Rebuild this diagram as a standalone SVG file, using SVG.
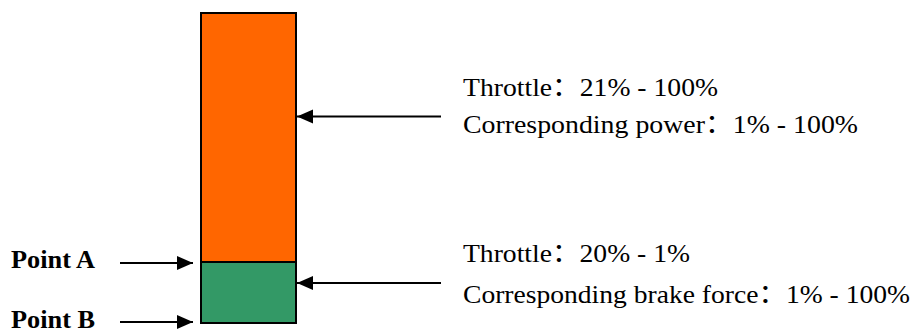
<svg xmlns="http://www.w3.org/2000/svg" width="917" height="333" viewBox="0 0 917 333">
  <style>
    .label { font-family: "Liberation Serif", "Noto Sans CJK SC", serif; font-size: 26px; fill: #000; }
    .point { font-family: "Liberation Serif", serif; font-size: 25px; font-weight: bold; fill: #000; }
    .conn { stroke: #000; stroke-width: 1.8; fill: none; marker-end: url(#head); }
    .bar { stroke: #000; stroke-width: 2; }
  </style>
  <defs>
    <marker id="head" markerUnits="userSpaceOnUse" markerWidth="17" markerHeight="15" refX="16" refY="7" orient="auto">
      <path d="M0,0 L16,7 L0,14 Z" fill="#000"/>
    </marker>
  </defs>
  <rect width="917" height="333" fill="#fff"/>

  <!-- stacked throttle bar -->
  <g id="throttle-band">
    <rect class="bar" x="201" y="13" width="95" height="249" fill="#FF6600"/>
  </g>
  <g id="brake-band">
    <rect class="bar" x="201" y="262" width="95" height="61" fill="#339966"/>
  </g>

  <!-- connectors -->
  <g id="connectors">
    <line class="conn" x1="441" y1="116.5" x2="297" y2="116.5"/>
    <line class="conn" x1="441" y1="283" x2="297" y2="283"/>
    <line class="conn" x1="120" y1="263" x2="193" y2="263"/>
    <line class="conn" x1="120" y1="322" x2="193" y2="322"/>
  </g>

  <g id="point-a">
    <text class="point" x="11" y="268" textLength="84" lengthAdjust="spacingAndGlyphs">Point A</text>
  </g>
  <g id="point-b">
    <text class="point" x="11" y="328" textLength="84" lengthAdjust="spacingAndGlyphs">Point B</text>
  </g>

  <g id="power-range">
    <text class="label" x="463" y="95.5" textLength="255" lengthAdjust="spacingAndGlyphs">Throttle：21% - 100%</text>
    <text class="label" x="463" y="133" textLength="395" lengthAdjust="spacingAndGlyphs">Corresponding power：1% - 100%</text>
  </g>
  <g id="brake-range">
    <text class="label" x="463" y="261.5" textLength="227" lengthAdjust="spacingAndGlyphs">Throttle：20% - 1%</text>
    <text class="label" x="463" y="302.5" textLength="447" lengthAdjust="spacingAndGlyphs">Corresponding brake force：1% - 100%</text>
  </g>
</svg>
